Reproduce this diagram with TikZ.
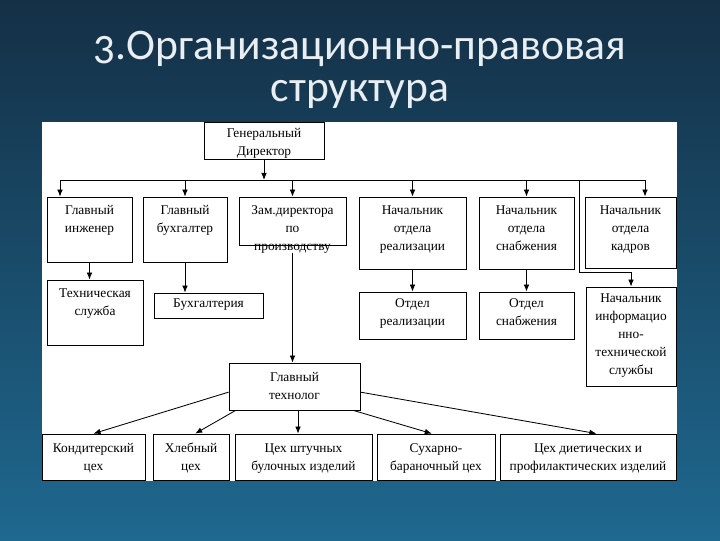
\documentclass[tikz,border=0pt]{standalone}
\usepackage{fontspec}
\setmainfont{Liberation Serif}
\newfontfamily\titlefont[Numbers=OldStyle]{Carlito}
\newfontfamily\boxfont{Liberation Serif}
\usetikzlibrary{positioning,arrows.meta}
\definecolor{bgtop}{RGB}{20,48,70}
\definecolor{bgbot}{RGB}{31,104,143}
\definecolor{titlegray}{RGB}{232,238,241}

\begin{document}
\begin{tikzpicture}[x=0.025cm,y=-0.025cm,
    blk/.style={draw=black, line width=0.6pt, fill=white, inner sep=0pt},
    sz/.style 2 args={minimum width=#1*0.025cm, minimum height=#2*0.025cm},
    txt/.style={align=center, inner sep=0pt, font=\boxfont\fontsize{9.5}{12.8}\selectfont},
    ln/.style={line width=0.6pt},
    arr/.style={line width=0.6pt, -{Latex[length=5pt,width=4pt]}}]
    % slide background
    \useasboundingbox (0,0) rectangle (720,540);
    \shade[top color=bgtop, bottom color=bgbot] (0,0) rectangle (720,540);
    \fill[white] (42,122) rectangle (677,481);
    \node[font=\titlefont\fontsize{31}{30}\selectfont, text=titlegray, align=center] (title) at (360,70)
        {3.Организационно-правовая\\структура};

    % top level
    \node[blk, sz={120}{37}] (gd) at (264,140.5) {};
    \node[txt, below=4.5pt of gd.north] (gd-t) {Генеральный\\Директор};

    % second row
    \node[blk, sz={85}{65}] (gi) at (89.5,229.5) {};
    \node[txt, below=6pt of gi.north] (gi-t) {Главный\\инженер};
    \node[blk, sz={84}{65}] (gb) at (185,229.5) {};
    \node[txt, below=6pt of gb.north] (gb-t) {Главный\\бухгалтер};
    \node[blk, sz={107}{48}] (zam) at (292.5,221) {};
    \node[txt, below=6pt of zam.north] (zam-t) {Зам.директора\\по\\производству};
    \node[blk, sz={107}{72}] (nr) at (412.5,233) {};
    \node[txt, below=6pt of nr.north] (nr-t) {Начальник\\отдела\\реализации};
    \node[blk, sz={95}{72}] (ns) at (526.5,233) {};
    \node[txt, below=6pt of ns.north] (ns-t) {Начальник\\отдела\\снабжения};
    \node[blk, sz={91}{71}] (nk) at (630.5,232.5) {};
    \node[txt, below=6pt of nk.north] (nk-t) {Начальник\\отдела\\кадров};

    % third row
    \node[blk, sz={96}{65}] (ts) at (95,312.5) {};
    \node[txt, below=6pt of ts.north] (ts-t) {Техническая\\служба};
    \node[blk, sz={109}{25}] (buh) at (208.5,305.5) {};
    \node[txt, below=4.5pt of buh.north] (buh-t) {Бухгалтерия};
    \node[blk, sz={107}{47}] (otr) at (412.5,315.5) {};
    \node[txt, below=4.5pt of otr.north] (otr-t) {Отдел\\реализации};
    \node[blk, sz={95}{47}] (ots) at (526.5,315.5) {};
    \node[txt, below=4.5pt of ots.north] (ots-t) {Отдел\\снабжения};
    \node[blk, sz={90}{99}] (nit) at (631,336.5) {};
    \node[txt, below=5pt of nit.north] (nit-t) {Начальник\\информацио\\нно-\\технической\\службы};

    % production
    \node[blk, sz={131}{47}] (gt) at (294.5,386.5) {};
    \node[txt, below=7pt of gt.north] (gt-t) {Главный\\технолог};
    \node[blk, sz={103}{46}] (konf) at (93.5,457) {};
    \node[txt, below=7pt of konf.north] (konf-t) {Кондитерский\\цех};
    \node[blk, sz={76}{46}] (hleb) at (191,457) {};
    \node[txt, below=6.6pt of hleb.north] (hleb-t) {Хлебный\\цех};
    \node[blk, sz={137}{46}] (sht) at (303.5,457) {};
    \node[txt, below=7pt of sht.north] (sht-t) {Цех штучных\\булочных изделий};
    \node[blk, sz={118}{46}] (suh) at (436,457) {};
    \node[txt, below=7pt of suh.north] (suh-t) {Сухарно-\\бараночный цех};
    \node[blk, sz={176}{46}] (diet) at (588,457) {};
    \node[txt, below=7pt of diet.north] (diet-t) {Цех диетических и\\профилактических изделий};

    % connectors
    \coordinate (bus-l) at (60,180);
    \coordinate (bus-r) at (645,180);
    \coordinate (bus-n) at (579,180);
    \coordinate (turn-n) at (579,272);
    \draw[ln] (bus-l) -- (bus-r);
    \draw[arr] (gd) -- (gd |- bus-l);
    \draw[arr] (bus-l) -- (bus-l |- gi.north);
    \draw[arr] (gb |- bus-l) -- (gb);
    \draw[arr] (zam |- bus-l) -- (zam);
    \draw[arr] (nr |- bus-l) -- (nr);
    \draw[arr] (ns |- bus-l) -- (ns);
    \draw[arr] (bus-r) -- (bus-r |- nk.north);
    \draw[arr] (bus-n) -- (turn-n) -| (nit.north);
    \draw[arr] (gi.south) -- (gi.south |- ts.north);
    \draw[arr] (gb.south) -- (gb.south |- buh.north);
    \draw[arr] (nr) -- (otr);
    \draw[arr] (ns) -- (ots);
    \draw[arr] (zam-t.south) -- (zam-t.south |- gt.north);
    \draw[arr] ([yshift=-4pt]gt.west) -- (konf.north);
    \draw[arr] ([xshift=5pt]gt.south west) -- ([xshift=3pt]hleb.north);
    \draw[arr] ([xshift=2.5pt]gt.south) -- ([xshift=2.5pt]gt.south |- sht.north);
    \draw[arr] ([xshift=-5pt]gt.south east) -- ([xshift=-3pt]suh.north);
    \draw[arr] ([yshift=-4pt]gt.east) -- ([xshift=6pt]diet.north);
\end{tikzpicture}
\end{document}
